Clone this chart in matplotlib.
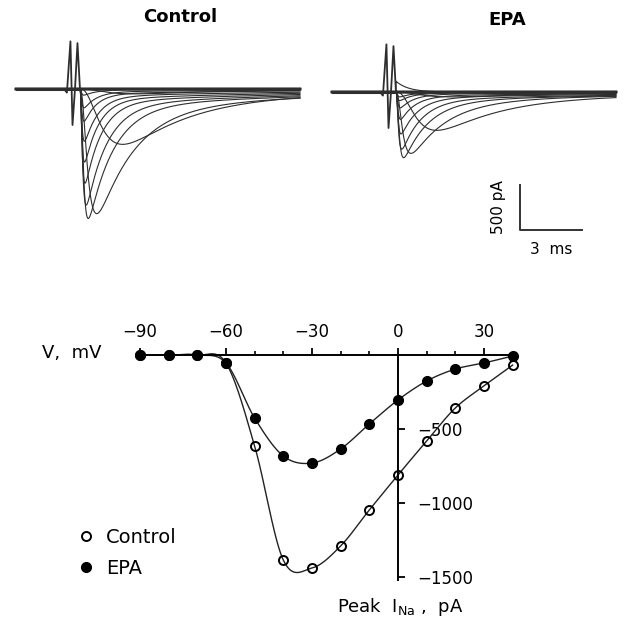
import numpy as np
import matplotlib.pyplot as plt
from matplotlib.lines import Line2D

###################################################################
#   Data
###################################################################

# I-V relation, peak I_Na (pA) vs test potential (mV)
volts = [-90, -80, -70, -60, -50, -40, -30, -20, -10, 0, 10, 20, 30, 40]
ina_control = [0, 0, 0, -54, -615, -1385, -1439, -1290, -1047, -811, -581, -358, -209, -68]
ina_epa = [0, 0, 0, -54, -426, -682, -730, -635, -466, -304, -176, -95, -54, -7]

# current traces: kinetics per test step (ms) for -90 ... +40 mV
ctrl_tm = [1.0, 1.0, 1.0, 1.0, 0.78, 0.25, 0.11, 0.08, 0.065, 0.06, 0.06, 0.055, 0.055, 0.05]
ctrl_th = [4.0, 4.0, 4.0, 4.0, 3.0, 1.8, 1.2, 1.0, 0.8, 0.7, 0.65, 0.6, 0.6, 0.6]
epa_tm = [1.0, 1.0, 1.0, 1.0, 0.75, 0.22, 0.1, 0.075, 0.065, 0.06, 0.055, 0.05, 0.05, 0.05]
epa_th = [4.0, 4.0, 4.0, 4.0, 2.8, 1.7, 1.2, 0.95, 0.8, 0.7, 0.65, 0.6, 0.6, 0.6]
slow_frac = 0.1
slow_tau = 12.0
epa_outward_amp = 120
epa_outward_tau = 0.6

# capacitive artifact at the step (ms, pA)
art_t = [-0.77, -0.63, -0.46, -0.36, -0.24, -0.12, 0.0]
art_i = [0, -40, 530, -400, 0, 510, 0]

###################################################################
#   helpers
###################################################################
W, H = 630, 631


def fig_rect(x0, y0, x1, y1):
    # pixel box (top-left origin) -> figure fraction
    return [x0 / W, 1 - y1 / H, (x1 - x0) / W, (y1 - y0) / H]


def na_current(t, amp, tm, th):
    tt = np.clip(t, 0, None)
    s = (1 - np.exp(-tt / tm)) ** 3 * ((1 - slow_frac) * np.exp(-tt / th)
                                       + slow_frac * np.exp(-tt / slow_tau))
    if s.max() == 0 or amp == 0:
        return np.zeros_like(t)
    return amp * s / s.max()


def smooth(x, y, n=40):
    # cubic Hermite through the points (Catmull-Rom tangents)
    x = np.asarray(x, float)
    y = np.asarray(y, float)
    m = np.gradient(y, x)
    xs, ys = [], []
    for i in range(len(x) - 1):
        h = x[i + 1] - x[i]
        s = np.linspace(0, 1, n)
        h00 = 2 * s**3 - 3 * s**2 + 1
        h10 = s**3 - 2 * s**2 + s
        h01 = -2 * s**3 + 3 * s**2
        h11 = s**3 - s**2
        xs.append(x[i] + s * h)
        ys.append(h00 * y[i] + h10 * h * m[i] + h01 * y[i + 1] + h11 * h * m[i + 1])
    return np.concatenate(xs), np.concatenate(ys)


fig = plt.figure(figsize=(6.3, 6.31), dpi=100)

###################################################################
#   Current traces
###################################################################
t = np.linspace(-3.09, 10.63, 3000)
tr_color = '#2e2e2e'


def draw_traces(ax, amps, tms, ths, outward=None):
    ax.plot(t[t <= 0], np.zeros((t <= 0).sum()), color=tr_color, lw=2.2)
    for amp, tm, th in zip(amps, tms, ths):
        lw = 1.8 if amp == 0 else 0.8
        ax.plot(t, na_current(t, amp, tm, th), color=tr_color, lw=lw, clip_on=False)
    if outward is not None:
        amp, tau = outward
        ax.plot(t, np.where(t >= 0, amp * np.exp(-np.clip(t, 0, None) / tau), 0),
                color=tr_color, lw=0.8)
    ax.plot(art_t, art_i, color=tr_color, lw=1.3, clip_on=False)
    ax.set_xlim(t[0], t[-1])
    ax.set_ylim(-1678, 656)
    ax.axis('off')


ax1 = fig.add_axes(fig_rect(16, 30, 300, 240))
draw_traces(ax1, ina_control, ctrl_tm, ctrl_th)

ax2 = fig.add_axes(fig_rect(332, 33, 616, 243))
draw_traces(ax2, ina_epa, epa_tm, epa_th, outward=(epa_outward_amp, epa_outward_tau))

# scale bar 500 pA / 3 ms
ax2.plot([6.0, 6.0, 9.0], [-1033, -1533, -1533], color='#333333', lw=1.4, clip_on=False)
ax2.text(4.95, -1283, '500 pA', rotation=90, ha='center', va='center', fontsize=11)
ax2.text(7.5, -1755, '3  ms', ha='center', va='center', fontsize=11)

fig.text(180 / W, 1 - 17 / H, 'Control', ha='center', va='center', fontsize=13, fontweight='bold')
fig.text(507 / W, 1 - 20 / H, 'EPA', ha='center', va='center', fontsize=13, fontweight='bold')

###################################################################
#   I-V curve
###################################################################
ax = fig.add_axes(fig_rect(137.1, 355, 515.5, 580))

xc, yc = smooth(volts, ina_control)
xe, ye = smooth(volts, ina_epa)
ax.plot(xc, yc, color='#222222', lw=1.0, clip_on=False)
ax.plot(xe, ye, color='#222222', lw=1.0, clip_on=False)
ax.plot(volts, ina_control, 'o', mfc='none', mec='black', mew=1.4, ms=6.5, clip_on=False, zorder=5)
ax.plot(volts, ina_epa, 'o', mfc='black', mec='black', ms=7, clip_on=False, zorder=6)

ax.set_xlim(-91, 41)
ax.set_ylim(-1520, 0)

for s in ['left', 'bottom']:
    ax.spines[s].set_visible(False)
ax.spines['top'].set_position(('data', 0))
ax.spines['right'].set_position(('data', 0))
ax.spines['right'].set_bounds(-1520, 0)
ax.spines['top'].set_linewidth(1.4)
ax.spines['right'].set_linewidth(1.4)

ax.xaxis.tick_top()
ax.set_xticks([-90, -60, -30, 0, 30])
ax.set_xticks(range(-90, 41, 10), minor=True)
ax.tick_params(axis='x', which='major', direction='out', length=5, width=1.3, labelsize=12, pad=5)
ax.tick_params(axis='x', which='minor', direction='out', length=3, width=1.2)

ax.yaxis.tick_right()
ax.set_yticks([-500, -1000, -1500])
ax.tick_params(axis='y', direction='out', length=5, width=1.3, labelsize=12, pad=9)

fig.text(42 / W, 1 - 353 / H, 'V,  mV', ha='left', va='center', fontsize=13)
fig.text(400 / W, 1 - 607 / H, r'Peak  I$_{\mathrm{Na}}$ ,  pA', ha='center', va='center', fontsize=13)

handles = [Line2D([], [], ls='none', marker='o', mfc='none', mec='black', mew=1.4, ms=6.5),
           Line2D([], [], ls='none', marker='o', mfc='black', mec='black', ms=7)]
ax.legend(handles, ['Control', 'EPA'], loc='upper left', bbox_to_anchor=(76 / W, 1 - 528 / H),
          bbox_transform=fig.transFigure, frameon=False, fontsize=14, handlelength=1.0,
          handletextpad=0.55, labelspacing=0.6, borderpad=0, borderaxespad=0)

fig.savefig('out.png', dpi=100)
